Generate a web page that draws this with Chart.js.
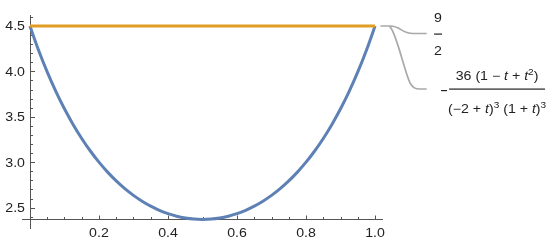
<!DOCTYPE html>
<html>
<head>
<meta charset="utf-8">
<script src="https://cdn.jsdelivr.net/npm/chart.js@4.4.1/dist/chart.umd.min.js"></script>
<style>
  html, body { margin: 0; padding: 0; background: #fff; }
  #wrap { width: 550px; height: 243px; position: relative; }
</style>
</head>
<body>
<div id="wrap"><canvas id="c" width="550" height="243"></canvas></div>
<script>
// ---- data ----
const tValues = [0, 0.025, 0.05, 0.075, 0.1, 0.125, 0.15, 0.175, 0.2, 0.225, 0.25, 0.275, 0.3, 0.325, 0.35, 0.375, 0.4, 0.425, 0.45, 0.475, 0.5,
                 0.525, 0.55, 0.575, 0.6, 0.625, 0.65, 0.675, 0.7, 0.725, 0.75, 0.775, 0.8, 0.825, 0.85, 0.875, 0.9, 0.925, 0.95, 0.975, 1];
const blueValues = [4.5, 4.2336, 3.9948, 3.7806, 3.5884, 3.4162, 3.2618, 3.1238, 3.0007, 2.8912, 2.7944, 2.7092, 2.6348, 2.5707, 2.5163, 2.4709, 2.4343, 2.4062, 2.3862, 2.3743, 2.3704,
                    2.3743, 2.3862, 2.4062, 2.4343, 2.4709, 2.5163, 2.5707, 2.6348, 2.7092, 2.7944, 2.8912, 3.0007, 3.1238, 3.2618, 3.4162, 3.5884, 3.7806, 3.9948, 4.2336, 4.5];
const orangeT = [0, 1];
const orangeValues = [4.5, 4.5];

const xMajorTicks = [0.2, 0.4, 0.6, 0.8, 1.0];
const xTickLabels = ['0.2', '0.4', '0.6', '0.8', '1.0'];
const yMajorTicks = [2.5, 3.0, 3.5, 4.0, 4.5];
const yTickLabels = ['2.5', '3.0', '3.5', '4.0', '4.5'];
const xMinorStep = 0.05;
const yMinorStep = 0.1;

const xRange = [-0.023, 1.023];
const yRange = [2.265, 4.621];
const axisOriginY = Math.min(...blueValues);

const BLUE = '#5E81B5';
const ORANGE = '#E19C24';
const GRAY = '#A9A9A9';
const AXIS = '#555555';
const TEXT = '#222222';
const FONT = '"Liberation Sans", Arial, sans-serif';
const SX = 1.18; // horizontal stretch of text

function txt(ctx, s, x, y, align, size, italic) {
  ctx.save();
  ctx.font = (italic ? 'italic ' : '') + size + 'px ' + FONT;
  const w = ctx.measureText(s).width * SX;
  let x0 = x;
  if (align === 'center') x0 = x - w / 2;
  else if (align === 'right') x0 = x - w;
  ctx.translate(x0, y);
  ctx.scale(SX, 1);
  ctx.textAlign = 'left';
  ctx.fillText(s, 0, 0);
  ctx.restore();
  return w;
}
function runsWidth(ctx, runs) {
  let w = 0;
  for (const r of runs) {
    ctx.font = (r.it ? 'italic ' : '') + (r.sup ? 8.5 : 12) + 'px ' + FONT;
    w += ctx.measureText(r.s).width * SX;
  }
  return w;
}
function drawRuns(ctx, runs, cx, baseline) {
  let x = cx - runsWidth(ctx, runs) / 2;
  for (const r of runs) {
    x += txt(ctx, r.s, x, r.sup ? baseline - 5 : baseline, 'left', r.sup ? 8.5 : 12, r.it);
  }
}

const axesPlugin = {
  id: 'mmaAxes',
  beforeDatasetsDraw(chart) {
    const ctx = chart.ctx;
    const xs = chart.scales.x, ys = chart.scales.y;
    const area = chart.chartArea;
    const x0 = xs.getPixelForValue(0);
    const y0 = ys.getPixelForValue(axisOriginY);
    ctx.save();
    ctx.strokeStyle = AXIS;
    ctx.lineWidth = 1;
    ctx.beginPath();
    ctx.moveTo(Math.round(x0) + 0.5, area.top);
    ctx.lineTo(Math.round(x0) + 0.5, area.bottom);
    ctx.moveTo(area.left, Math.round(y0) + 0.5);
    ctx.lineTo(area.right, Math.round(y0) + 0.5);
    // x ticks
    for (let v = xMinorStep; v <= 1.0001; v += xMinorStep) {
      const major = Math.abs(v / 0.2 - Math.round(v / 0.2)) < 1e-6;
      const px = Math.round(xs.getPixelForValue(v)) + 0.5;
      ctx.moveTo(px, Math.round(y0) + 0.5);
      ctx.lineTo(px, Math.round(y0) + 0.5 - (major ? 4 : 2.5));
    }
    // y ticks
    for (let k = 24; k <= 46; k++) {
      const v = k * yMinorStep;
      const major = k % 5 === 0;
      const py = Math.round(ys.getPixelForValue(v)) + 0.5;
      ctx.moveTo(Math.round(x0) + 0.5, py);
      ctx.lineTo(Math.round(x0) + 0.5 + (major ? 4.5 : 2.5), py);
    }
    ctx.stroke();
    ctx.fillStyle = TEXT;
    ctx.textBaseline = 'alphabetic';
    xMajorTicks.forEach((v, i) => {
      txt(ctx, xTickLabels[i], xs.getPixelForValue(v), y0 + 18, 'center', 12, false);
    });
    yMajorTicks.forEach((v, i) => {
      txt(ctx, yTickLabels[i], x0 - 5, ys.getPixelForValue(v) + 4.3, 'right', 12, false);
    });
    ctx.restore();
  },
  afterDatasetsDraw(chart) {
    const ctx = chart.ctx;
    const xs = chart.scales.x, ys = chart.scales.y;
    const xe = xs.getPixelForValue(1);
    const yo = ys.getPixelForValue(orangeValues[1]);
    ctx.save();
    // leader lines
    ctx.strokeStyle = GRAY;
    ctx.lineWidth = 1.7;
    ctx.lineCap = 'round';
    ctx.beginPath();
    ctx.moveTo(xe + 6, yo);
    ctx.lineTo(xe + 15, yo);
    ctx.bezierCurveTo(xe + 26, yo, xe + 26, yo + 7.5, xe + 38, yo + 7.5);
    ctx.lineTo(xe + 51, yo + 7.5);
    ctx.stroke();
    ctx.beginPath();
    ctx.moveTo(xe + 15, yo + 1);
    ctx.bezierCurveTo(xe + 21, yo + 6, xe + 29, yo + 44, xe + 35, yo + 57);
    ctx.bezierCurveTo(xe + 38, yo + 62, xe + 40, yo + 63, xe + 45, yo + 63);
    ctx.lineTo(xe + 51, yo + 63);
    ctx.stroke();
    // label 9/2
    ctx.fillStyle = TEXT;
    const lx = xe + 63;
    txt(ctx, '9', lx, yo - 4, 'center', 12, false);
    ctx.fillRect(lx - 4, yo + 7.5, 8, 1.2);
    txt(ctx, '2', lx, yo + 29, 'center', 12, false);
    // big fraction
    const by = yo + 63;
    ctx.fillRect(xe + 66, by + 1, 6, 1.2);
    ctx.fillRect(xe + 74, by - 0.5, 96, 1.2);
    const cx = xe + 122;
    drawRuns(ctx, [
      {s: '36 (1 \u2212 '}, {s: 't', it: true}, {s: ' + '}, {s: 't', it: true}, {s: '2', sup: true}, {s: ')'}
    ], cx, by - 9);
    drawRuns(ctx, [
      {s: '(\u22122 + '}, {s: 't', it: true}, {s: ')'}, {s: '3', sup: true}, {s: ' (1 + '}, {s: 't', it: true}, {s: ')'}, {s: '3', sup: true}
    ], cx, by + 24);
    ctx.restore();
  }
};

new Chart(document.getElementById('c'), {
  type: 'scatter',
  data: {
    datasets: [
      {
        label: '9/2',
        data: orangeT.map((t, i) => ({x: t, y: orangeValues[i]})),
        showLine: true, borderColor: ORANGE, borderWidth: 3, pointRadius: 0, order: 0
      },
      {
        label: 'f',
        data: tValues.map((t, i) => ({x: t, y: blueValues[i]})),
        showLine: true, borderColor: BLUE, borderWidth: 3, pointRadius: 0,
        cubicInterpolationMode: 'monotone', order: 1
      }
    ]
  },
  options: {
    responsive: false,
    animation: false,
    devicePixelRatio: 1,
    layout: { padding: { left: 22, top: 15, right: 167, bottom: 14 } },
    plugins: { legend: { display: false }, tooltip: { enabled: false } },
    scales: {
      x: { type: 'linear', min: xRange[0], max: xRange[1], display: false },
      y: { type: 'linear', min: yRange[0], max: yRange[1], display: false }
    }
  },
  plugins: [axesPlugin]
});
</script>
</body>
</html>
